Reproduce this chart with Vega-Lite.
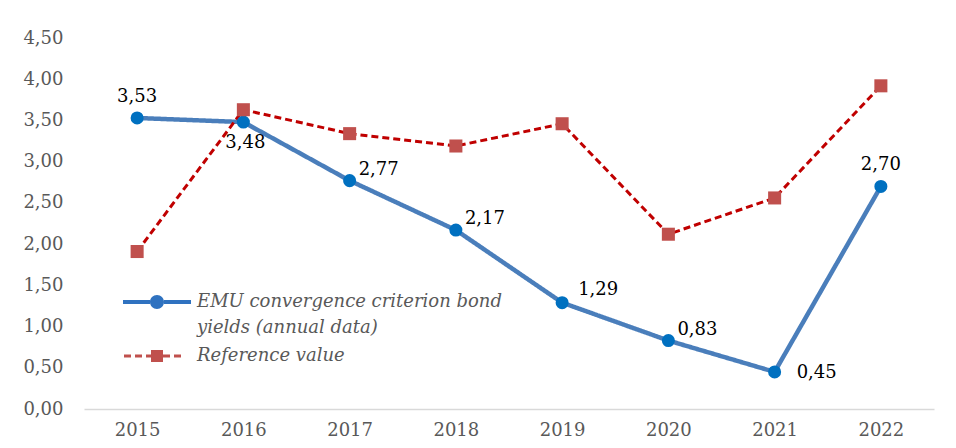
{
  "$schema": "https://vega.github.io/schema/vega-lite/v6.json",
  "width": 850,
  "height": 371,
  "autosize": {"type": "none"},
  "padding": {"left": 84, "top": 38, "right": 22, "bottom": 39},
  "background": "white",
  "config": {
    "view": {"stroke": null},
    "font": "DejaVu Serif",
    "locale": {"number": {"decimal": ",", "thousands": ".", "grouping": [3], "currency": ["", " €"]}},
    "style": {"guide-label": {"lineHeight": 26}}
  },
  "data": {
    "values": [
      {"year": "2015", "series": "EMU convergence criterion bond yields (annual data)", "value": 3.53, "pos": "above"},
      {"year": "2016", "series": "EMU convergence criterion bond yields (annual data)", "value": 3.48, "pos": "below"},
      {"year": "2017", "series": "EMU convergence criterion bond yields (annual data)", "value": 2.77, "pos": "upright"},
      {"year": "2018", "series": "EMU convergence criterion bond yields (annual data)", "value": 2.17, "pos": "upright"},
      {"year": "2019", "series": "EMU convergence criterion bond yields (annual data)", "value": 1.29, "pos": "upright2"},
      {"year": "2020", "series": "EMU convergence criterion bond yields (annual data)", "value": 0.83, "pos": "upright"},
      {"year": "2021", "series": "EMU convergence criterion bond yields (annual data)", "value": 0.45, "pos": "right"},
      {"year": "2022", "series": "EMU convergence criterion bond yields (annual data)", "value": 2.70, "pos": "above"},
      {"year": "2015", "series": "Reference value", "value": 1.91, "pos": "none"},
      {"year": "2016", "series": "Reference value", "value": 3.63, "pos": "none"},
      {"year": "2017", "series": "Reference value", "value": 3.34, "pos": "none"},
      {"year": "2018", "series": "Reference value", "value": 3.19, "pos": "none"},
      {"year": "2019", "series": "Reference value", "value": 3.46, "pos": "none"},
      {"year": "2020", "series": "Reference value", "value": 2.12, "pos": "none"},
      {"year": "2021", "series": "Reference value", "value": 2.56, "pos": "none"},
      {"year": "2022", "series": "Reference value", "value": 3.92, "pos": "none"}
    ]
  },
  "encoding": {
    "x": {
      "field": "year", "type": "ordinal",
      "scale": {"paddingInner": 0, "paddingOuter": 0},
      "axis": {"title": null, "labelAngle": 0, "ticks": false, "domainColor": "#D9D9D9", "domainWidth": 1.5,
               "labelFont": "DejaVu Serif", "labelFontSize": 18, "labelColor": "#595959", "labelPadding": 12}
    },
    "y": {
      "field": "value", "type": "quantitative",
      "scale": {"domain": [0, 4.5]},
      "axis": {"title": null, "values": [0, 0.5, 1, 1.5, 2, 2.5, 3, 3.5, 4, 4.5], "format": ".2f", "grid": false,
               "ticks": false, "domain": false, "labelFont": "DejaVu Serif", "labelFontSize": 18,
               "labelColor": "#595959", "labelPadding": 21}
    }
  },
  "layer": [
    {
      "mark": {"type": "line"},
      "encoding": {
        "color": {"field": "series", "type": "nominal", "legend": null,
                  "scale": {"domain": ["EMU convergence criterion bond yields (annual data)", "Reference value"], "range": ["#4A7EBB", "#C00000"]}},
        "strokeDash": {"field": "series", "type": "nominal", "legend": null,
                       "scale": {"domain": ["EMU convergence criterion bond yields (annual data)", "Reference value"], "range": [[1, 0], [7, 4]]}},
        "strokeWidth": {"field": "series", "type": "nominal", "legend": null,
                        "scale": {"domain": ["EMU convergence criterion bond yields (annual data)", "Reference value"], "range": [4.5, 3]}}
      }
    },
    {
      "mark": {"type": "point", "filled": true, "opacity": 1, "size": 170},
      "encoding": {
        "color": {"field": "series", "type": "nominal", "legend": null,
                  "scale": {"domain": ["EMU convergence criterion bond yields (annual data)", "Reference value"], "range": ["#0070C0", "#C0504D"]}},
        "shape": {"field": "series", "type": "nominal", "legend": null,
                  "scale": {"domain": ["EMU convergence criterion bond yields (annual data)", "Reference value"], "range": ["circle", "square"]}}
      }
    },
    {
      "transform": [{"filter": "datum.value < 0"}],
      "mark": {"type": "point", "filled": true, "size": 400, "opacity": 1},
      "encoding": {
        "fill": {"field": "series", "type": "nominal",
                 "scale": {"domain": ["EMU convergence criterion bond yields (annual data)", "Reference value"], "range": ["#2F72C0", "#C0504D"]},
                 "legend": {
                   "title": null, "orient": "none", "legendX": 63, "legendY": 245, "padding": 0,
                   "symbolOpacity": 1, "symbolSize": 400, "symbolStrokeWidth": 0,
                   "labelFont": "DejaVu Serif", "labelFontStyle": "italic", "labelFontSize": 18, "labelColor": "#595959",
                   "labelOffset": 30, "labelLimit": 400, "rowPadding": -4, "labelBaseline": "top",
                   "labelExpr": "datum.label == 'Reference value' ? datum.label : ['EMU convergence criterion bond', 'yields (annual data)']"
                 }},
        "shape": {"field": "series", "type": "nominal",
                  "scale": {"domain": ["EMU convergence criterion bond yields (annual data)", "Reference value"],
                            "range": ["M-3.4,0.7H-0.7V1.1H-3.4Z M0.7,0.7H3.4V1.1H0.7Z M-0.7,0.9A0.7,0.7 0 1,0 0.7,0.9A0.7,0.7 0 1,0 -0.7,0.9Z",
                                      "M-3.3,0.75H-2.6V1.05H-3.3Z M-2.2,0.75H-1.5V1.05H-2.2Z M-1.1,0.75H-0.6V1.05H-1.1Z M-0.6,0.3H0.6V1.5H-0.6Z M0.6,0.75H1.3V1.05H0.6Z M1.7,0.75H2.4V1.05H1.7Z"]}}
      }
    },
    {
      "transform": [{"filter": "datum.pos == 'above'"}],
      "mark": {"type": "text", "dy": -21, "dx": 0, "fontSize": 18, "color": "black"},
      "encoding": {"text": {"field": "value", "type": "quantitative", "format": ".2f"}}
    },
    {
      "transform": [{"filter": "datum.pos == 'below'"}],
      "mark": {"type": "text", "dy": 21, "dx": 2, "fontSize": 18, "color": "black"},
      "encoding": {"text": {"field": "value", "type": "quantitative", "format": ".2f"}}
    },
    {
      "transform": [{"filter": "datum.pos == 'upright'"}],
      "mark": {"type": "text", "align": "left", "dy": -11, "dx": 9, "fontSize": 18, "color": "black"},
      "encoding": {"text": {"field": "value", "type": "quantitative", "format": ".2f"}}
    },
    {
      "transform": [{"filter": "datum.pos == 'upright2'"}],
      "mark": {"type": "text", "align": "left", "dy": -13, "dx": 16, "fontSize": 18, "color": "black"},
      "encoding": {"text": {"field": "value", "type": "quantitative", "format": ".2f"}}
    },
    {
      "transform": [{"filter": "datum.pos == 'right'"}],
      "mark": {"type": "text", "align": "left", "dy": 1, "dx": 22, "fontSize": 18, "color": "black"},
      "encoding": {"text": {"field": "value", "type": "quantitative", "format": ".2f"}}
    }
  ],
  "resolve": {"scale": {"color": "independent", "shape": "independent", "fill": "independent"}}
}
